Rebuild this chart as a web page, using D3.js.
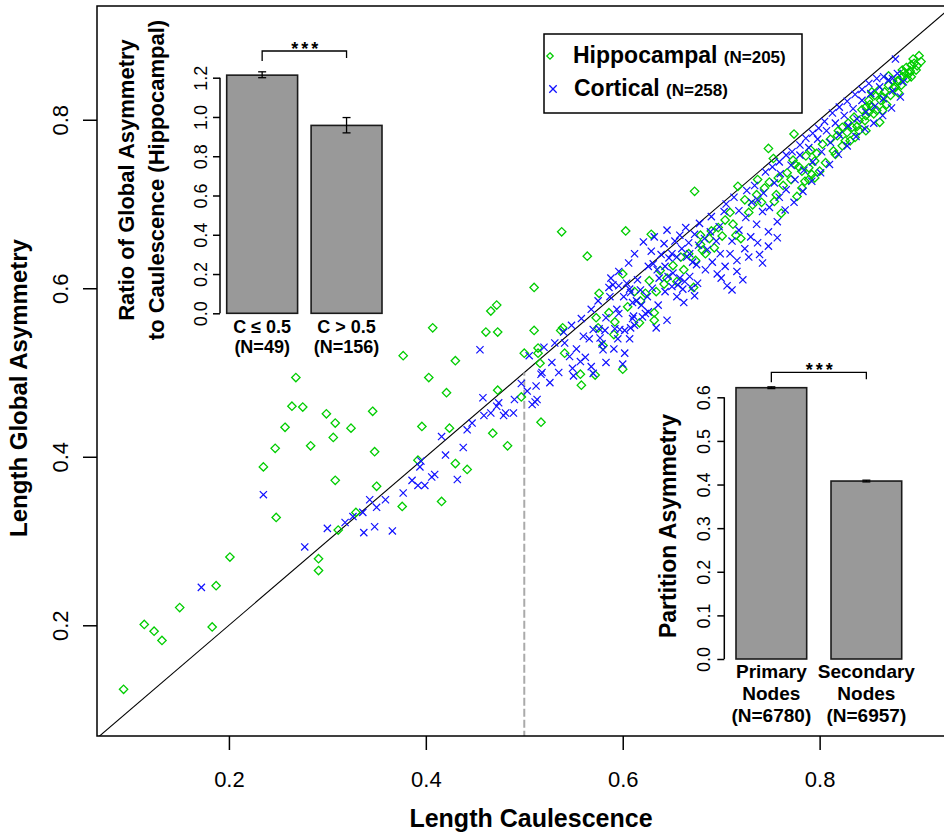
<!DOCTYPE html>
<html>
<head>
<meta charset="utf-8">
<title>Global asymmetry vs caulescence</title>
<script src="https://d3js.org/d3.v7.min.js"></script>
<style>
  body { margin: 0; background: #fff; }
  svg text { font-family: "Liberation Sans", Arial, sans-serif; fill: #000; }
  .bold { font-weight: bold; }
</style>
</head>
<body>
<svg id="chart" width="944" height="836"></svg>
<script>
// ---- data ----
var hippocampal = [
  [0.093,0.124],[0.114,0.201],[0.124,0.193],[0.132,0.182],[0.150,0.221],[0.187,0.247],[0.183,0.198],[0.201,0.281],
  [0.248,0.328],[0.291,0.279],[0.291,0.265],[0.311,0.313],[0.329,0.334],[0.376,0.341],[0.416,0.347],
  [0.564,0.638],[0.600,0.617],[0.510,0.601],[0.576,0.594],[0.623,0.594],[0.472,0.580],[0.466,0.573],[0.407,0.553],
  [0.461,0.548],[0.473,0.548],[0.510,0.550],[0.537,0.550],[0.539,0.553],[0.573,0.565],[0.591,0.545],[0.617,0.559],
  [0.632,0.571],[0.632,0.562],[0.642,0.605],[0.672,0.601],[0.659,0.637],
  [0.377,0.520],[0.430,0.514],[0.500,0.523],[0.514,0.529],[0.514,0.523],[0.516,0.511],[0.541,0.523],[0.580,0.532],
  [0.403,0.494],[0.421,0.476],[0.473,0.479],[0.497,0.471],[0.557,0.498],[0.572,0.497],[0.558,0.485],[0.600,0.504],
  [0.517,0.441],[0.396,0.436],[0.424,0.434],[0.468,0.428],[0.483,0.413],[0.392,0.396],[0.430,0.392],[0.442,0.385],
  [0.235,0.388],[0.247,0.410],[0.257,0.435],[0.264,0.460],[0.268,0.494],[0.275,0.459],[0.283,0.413],[0.299,0.451],
  [0.308,0.440],[0.306,0.423],[0.308,0.372],[0.324,0.434],[0.346,0.454],[0.348,0.406],[0.350,0.365],[0.538,0.667],
  [0.673,0.715],[0.603,0.668],[0.629,0.664],[0.748,0.766],[0.753,0.754],[0.774,0.783],[0.717,0.721],[0.737,0.729],
  [0.732,0.699],[0.679,0.663],[0.681,0.645],[0.715,0.663],[0.720,0.659],[0.756,0.711],[0.754,0.703],[0.761,0.689],
  [0.777,0.709],[0.785,0.727],[0.792,0.735],[0.789,0.743],[0.800,0.739],[0.795,0.751],[0.816,0.759],[0.823,0.769],
  [0.831,0.775],[0.836,0.779],[0.828,0.785],[0.833,0.791],[0.840,0.787],[0.847,0.787],[0.840,0.799],[0.847,0.805],
  [0.850,0.809],[0.861,0.797],[0.855,0.807],[0.864,0.811],[0.823,0.791],[0.819,0.787],[0.853,0.833],[0.860,0.835],
  [0.850,0.823],[0.864,0.827],[0.870,0.841],[0.877,0.839],[0.884,0.851],[0.891,0.855],[0.896,0.867],[0.903,0.869],
  [0.898,0.859],[0.889,0.849],[0.881,0.847],[0.874,0.847],[0.884,0.859],[0.893,0.865],[0.853,0.815],[0.847,0.815],
  [0.775,0.747],[0.782,0.739],[0.795,0.731],[0.782,0.719],[0.789,0.729],
  [0.690,0.668],[0.697,0.672],[0.704,0.681],[0.709,0.690],[0.712,0.676],[0.724,0.705],[0.728,0.690],[0.736,0.711],
  [0.741,0.702],[0.744,0.719],[0.749,0.726],[0.758,0.731],[0.763,0.722],[0.767,0.737],[0.771,0.729],[0.773,0.752],
  [0.779,0.744],[0.786,0.757],[0.791,0.764],[0.797,0.760],[0.803,0.771],[0.806,0.749],[0.811,0.777],[0.814,0.763],
  [0.818,0.781],[0.826,0.775],[0.829,0.796],[0.835,0.803],[0.838,0.792],[0.843,0.812],[0.846,0.799],[0.851,0.818],
  [0.856,0.829],[0.858,0.811],[0.862,0.823],[0.866,0.833],[0.868,0.818],[0.872,0.829],[0.875,0.838],[0.879,0.846],
  [0.883,0.841],[0.886,0.856],[0.888,0.862],[0.892,0.858],[0.895,0.872],[0.899,0.864],[0.901,0.876],[0.893,0.851],
  [0.880,0.832],[0.870,0.852],
  [0.612,0.596],[0.618,0.585],[0.627,0.609],[0.634,0.596],[0.638,0.621],[0.645,0.612],[0.651,0.627],[0.655,0.608],
  [0.662,0.622],[0.667,0.641],[0.674,0.633],[0.679,0.652],[0.684,0.641],[0.688,0.659],[0.693,0.648],[0.701,0.662],
  [0.575,0.553],[0.586,0.571],[0.592,0.560],[0.605,0.578]
];

var cortical = [
  [0.172,0.245],[0.277,0.293],[0.326,0.329],[0.336,0.334],[0.348,0.317],[0.366,0.312],[0.343,0.349],[0.359,0.349],
  [0.235,0.355],
  [0.455,0.527],[0.531,0.535],[0.541,0.535],[0.558,0.564],[0.546,0.519],[0.557,0.513],[0.549,0.505],[0.550,0.496],
  [0.568,0.507],[0.570,0.499],[0.517,0.498],[0.518,0.500],[0.526,0.488],[0.512,0.484],[0.511,0.465],[0.513,0.468],
  [0.560,0.543],[0.566,0.540],[0.570,0.551],[0.576,0.552],[0.582,0.550],[0.577,0.541],[0.580,0.527],[0.579,0.534],
  [0.592,0.552],[0.597,0.551],[0.602,0.550],[0.608,0.553],[0.612,0.556],[0.595,0.540],[0.602,0.523],
  [0.587,0.590],[0.590,0.604],[0.586,0.601],[0.596,0.603],[0.604,0.606],[0.607,0.599],[0.608,0.595],[0.610,0.583],
  [0.619,0.580],[0.626,0.572],[0.623,0.570],[0.620,0.566],[0.594,0.575],[0.596,0.570],[0.610,0.564],[0.611,0.567],
  [0.634,0.553],[0.636,0.580],[0.645,0.562],[0.626,0.626],[0.631,0.629],[0.635,0.622],[0.643,0.626],[0.646,0.614],
  [0.651,0.618],[0.658,0.612],[0.663,0.608],[0.668,0.614],[0.650,0.641],[0.655,0.637],[0.665,0.637],[0.671,0.631],
  [0.675,0.628],[0.656,0.604],[0.661,0.599],[0.673,0.591],
  [0.474,0.464],[0.472,0.460],[0.481,0.452],[0.479,0.449],[0.489,0.452],[0.459,0.449],[0.442,0.432],[0.416,0.424],
  [0.394,0.388],[0.386,0.372],[0.392,0.366],[0.399,0.366],[0.406,0.376],[0.409,0.379],[0.432,0.373],
  [0.621,0.655],[0.629,0.644],[0.632,0.661],[0.639,0.640],[0.642,0.653],[0.645,0.669],[0.647,0.636],[0.653,0.656],
  [0.658,0.663],[0.660,0.647],[0.664,0.672],[0.667,0.654],[0.668,0.641],[0.673,0.664],[0.677,0.651],[0.678,0.677],
  [0.683,0.659],[0.686,0.646],[0.689,0.667],[0.690,0.685],[0.695,0.656],[0.698,0.673],[0.699,0.641],[0.703,0.691],
  [0.684,0.622],[0.691,0.631],[0.696,0.617],[0.704,0.626],[0.709,0.641],[0.711,0.656],[0.716,0.633],[0.718,0.669],
  [0.724,0.647],[0.725,0.684],[0.730,0.661],[0.731,0.702],[0.736,0.676],[0.737,0.654],[0.742,0.691],[0.743,0.713],
  [0.748,0.667],[0.749,0.696],[0.754,0.725],[0.757,0.679],[0.759,0.708],[0.760,0.736],[0.765,0.693],[0.766,0.717],
  [0.771,0.746],[0.774,0.702],[0.775,0.729],[0.780,0.758],[0.783,0.715],[0.784,0.740],[0.789,0.767],[0.792,0.727],
  [0.793,0.750],[0.798,0.777],[0.801,0.737],[0.802,0.762],[0.807,0.787],[0.810,0.747],[0.811,0.773],[0.816,0.796],
  [0.819,0.759],[0.820,0.782],[0.825,0.805],[0.828,0.769],[0.829,0.793],[0.834,0.813],[0.837,0.780],[0.838,0.801],
  [0.843,0.823],[0.846,0.789],[0.847,0.809],[0.852,0.831],[0.855,0.796],[0.856,0.816],[0.861,0.839],[0.864,0.805],
  [0.865,0.825],[0.870,0.847],[0.873,0.814],[0.874,0.834],[0.879,0.855],[0.882,0.827],[0.877,0.872],[0.865,0.851],
  [0.885,0.845],[0.874,0.849],
  [0.700,0.612],[0.706,0.603],[0.716,0.620],[0.728,0.637],[0.739,0.640],[0.748,0.650],[0.757,0.660],[0.742,0.630],
  [0.722,0.610],[0.711,0.598],
  [0.705,0.700],[0.713,0.708],[0.718,0.692],[0.726,0.716],[0.734,0.722],[0.737,0.705],[0.745,0.738],[0.752,0.744],
  [0.759,0.750],[0.766,0.758],[0.772,0.762],[0.780,0.770],[0.786,0.778],[0.793,0.784],[0.799,0.790],[0.805,0.798],
  [0.813,0.808],[0.820,0.815],[0.828,0.822],[0.836,0.830],[0.843,0.836],[0.850,0.843],[0.858,0.849],
  [0.505,0.520],[0.520,0.530],[0.528,0.512],[0.535,0.500],[0.540,0.548],[0.548,0.556],[0.553,0.528],[0.562,0.518],
  [0.568,0.575],[0.575,0.585],[0.583,0.565],[0.588,0.612],[0.596,0.620],[0.601,0.590],[0.606,0.630],[0.612,0.641],
  [0.615,0.610],[0.618,0.598],[0.583,0.512],[0.591,0.528],[0.600,0.510],[0.607,0.540],[0.614,0.585],[0.625,0.590],
  [0.630,0.600],[0.637,0.612],[0.643,0.596],[0.650,0.602],[0.655,0.590],[0.662,0.583],[0.670,0.600],[0.676,0.606],
  [0.300,0.315],[0.318,0.322],[0.337,0.310],[0.350,0.340],[0.377,0.357],[0.395,0.395],[0.420,0.402],[0.438,0.411],
  [0.447,0.440],[0.458,0.470],[0.466,0.452],[0.490,0.468],[0.497,0.487],[0.503,0.478],[0.508,0.462]
];

var xTicks = [0.2, 0.4, 0.6, 0.8];
var yTicks = [0.2, 0.4, 0.6, 0.8];
var cutoff = 0.5;

// inset 1: ratio of global asymmetry to caulescence
var ratioCats = ["C \u2264 0.5", "C > 0.5"];
var ratioN = ["(N=49)", "(N=156)"];
var ratioMean = [1.213, 0.957];
var ratioLo = [1.200, 0.919];
var ratioHi = [1.230, 0.997];
var ratioTicks = [0, 0.2, 0.4, 0.6, 0.8, 1.0, 1.2];

// inset 2: partition asymmetry
var partCats = [["Primary", "Nodes", "(N=6780)"], ["Secondary", "Nodes", "(N=6957)"]];
var partMean = [0.622, 0.408];
var partLo = [0.620, 0.406];
var partHi = [0.624, 0.410];
var partTicks = [0, 0.1, 0.2, 0.3, 0.4, 0.5, 0.6];

var green = "#00cd00", blue = "#1010ff";

var svg = d3.select("#chart");

// ---- main scatter ----
var x = d3.scaleLinear().domain([0.066, 0.9375]).range([97, 955]);
var y = d3.scaleLinear().domain([0.0686, 0.935]).range([736, 6]);

svg.append("clipPath").attr("id", "plotclip")
  .append("rect").attr("x", 97).attr("y", 6).attr("width", 858).attr("height", 730);

var plot = svg.append("g").attr("clip-path", "url(#plotclip)");

// y = x reference line
plot.append("line")
  .attr("x1", x(0.0)).attr("y1", y(0.0))
  .attr("x2", x(1.0)).attr("y2", y(1.0))
  .attr("stroke", "#000").attr("stroke-width", 1.1);

// dashed cut-off at C = 0.5
plot.append("line")
  .attr("x1", x(cutoff)).attr("x2", x(cutoff))
  .attr("y1", y(0.0)).attr("y2", y(cutoff))
  .attr("stroke", "#aaaaaa").attr("stroke-width", 2)
  .attr("stroke-dasharray", "8,3");

var diamond = function(r) { return "M0," + (-r) + "L" + r + ",0L0," + r + "L" + (-r) + ",0Z"; };
var cross = function(r) { return "M" + (-r) + "," + (-r) + "L" + r + "," + r + "M" + (-r) + "," + r + "L" + r + "," + (-r); };

plot.selectAll("path.hip")
  .data(hippocampal)
  .enter()
  .append("path")
  .attr("class", "hip")
  .attr("d", diamond(4.2))
  .attr("transform", function(d) { return "translate(" + x(d[0]) + "," + y(d[1]) + ")"; })
  .attr("fill", "none").attr("stroke", green).attr("stroke-width", 1.3);

plot.selectAll("path.cor")
  .data(cortical)
  .enter()
  .append("path")
  .attr("class", "cor")
  .attr("d", cross(3.6))
  .attr("transform", function(d) { return "translate(" + x(d[0]) + "," + y(d[1]) + ")"; })
  .attr("fill", "none").attr("stroke", blue).attr("stroke-width", 1.2);

// plot frame
svg.append("rect")
  .attr("x", 97).attr("y", 6).attr("width", 858).attr("height", 730)
  .attr("fill", "none").attr("stroke", "#000").attr("stroke-width", 1.5);

// x axis
var xAxis = svg.append("g")
  .attr("transform", "translate(0,736)")
  .call(d3.axisBottom(x).tickValues(xTicks).tickSize(14).tickPadding(21).tickFormat(d3.format(".1f")));
xAxis.select(".domain").remove();
xAxis.selectAll("line").attr("stroke-width", 1.5);
xAxis.selectAll("text").attr("font-size", 22).style("font-family", "Liberation Sans, Arial, sans-serif");

// y axis
var yAxis = svg.append("g")
  .attr("transform", "translate(97,0)")
  .call(d3.axisLeft(y).tickValues(yTicks).tickSize(14).tickFormat(d3.format(".1f")));
yAxis.select(".domain").remove();
yAxis.selectAll("line").attr("stroke-width", 1.5);
yAxis.selectAll("text")
  .attr("transform", "rotate(-90)")
  .attr("x", 0).attr("y", -29).attr("dy", 0)
  .attr("text-anchor", "middle")
  .attr("font-size", 22).style("font-family", "Liberation Sans, Arial, sans-serif");

svg.append("text").attr("class", "bold")
  .attr("x", 531).attr("y", 827)
  .attr("text-anchor", "middle").attr("font-size", 25)
  .text("Length Caulescence");

svg.append("text").attr("class", "bold")
  .attr("transform", "translate(27,388) rotate(-90)")
  .attr("text-anchor", "middle").attr("font-size", 24)
  .text("Length Global Asymmetry");

// legend
var legend = svg.append("g");
legend.append("rect")
  .attr("x", 544).attr("y", 34).attr("width", 258).attr("height", 79)
  .attr("fill", "#fff").attr("stroke", "#000").attr("stroke-width", 1.5);
legend.append("path").attr("d", diamond(3.2))
  .attr("transform", "translate(550,56)")
  .attr("fill", "none").attr("stroke", green).attr("stroke-width", 1.3);
legend.append("path").attr("d", cross(3.7))
  .attr("transform", "translate(553,89)")
  .attr("fill", "none").attr("stroke", blue).attr("stroke-width", 1.3);
var l1 = legend.append("text").attr("class", "bold").attr("x", 573).attr("y", 63).attr("font-size", 23);
l1.append("tspan").text("Hippocampal ");
l1.append("tspan").attr("font-size", 17).text("(N=205)");
var l2 = legend.append("text").attr("class", "bold").attr("x", 574).attr("y", 96).attr("font-size", 23);
l2.append("tspan").text("Cortical ");
l2.append("tspan").attr("font-size", 17).text("(N=258)");

// ---- inset bar chart helper ----
function inset(opt) {
  var g = svg.append("g");
  var by = d3.scaleLinear().domain(opt.domain).range(opt.yRange);
  var bx = d3.scaleBand().domain(d3.range(opt.mean.length)).range(opt.xRange).paddingInner(opt.pad);

  g.selectAll("rect.bar")
    .data(opt.mean)
    .enter()
    .append("rect")
    .attr("class", "bar")
    .attr("x", function(d, i) { return bx(i); })
    .attr("width", bx.bandwidth())
    .attr("y", function(d) { return by(d); })
    .attr("height", function(d) { return by(0) - by(d); })
    .attr("fill", "#999999").attr("stroke", "#1a1a1a").attr("stroke-width", 1.6);

  // error bars
  var err = g.selectAll("g.err").data(opt.mean).enter().append("g").attr("class", "err");
  err.append("line")
    .attr("x1", function(d, i) { return bx(i) + bx.bandwidth() / 2; })
    .attr("x2", function(d, i) { return bx(i) + bx.bandwidth() / 2; })
    .attr("y1", function(d, i) { return by(opt.lo[i]); })
    .attr("y2", function(d, i) { return by(opt.hi[i]); });
  [opt.lo, opt.hi].forEach(function(arr) {
    err.append("line")
      .attr("x1", function(d, i) { return bx(i) + bx.bandwidth() / 2 - 4; })
      .attr("x2", function(d, i) { return bx(i) + bx.bandwidth() / 2 + 4; })
      .attr("y1", function(d, i) { return by(arr[i]); })
      .attr("y2", function(d, i) { return by(arr[i]); });
  });
  err.selectAll("line").attr("stroke", "#000").attr("stroke-width", 1.3);

  // axis
  var ax = g.append("g")
    .attr("transform", "translate(" + opt.axisX + ",0)")
    .call(d3.axisLeft(by).tickValues(opt.ticks).tickSize(7).tickFormat(d3.format(".1f")));
  ax.select(".domain")
    .attr("d", "M0," + by(opt.ticks[0]) + "V" + by(opt.ticks[opt.ticks.length - 1]))
    .attr("stroke-width", 1.5);
  ax.selectAll("line").attr("stroke-width", 1.5);
  ax.selectAll("text")
    .attr("transform", "rotate(-90)")
    .attr("x", 0).attr("y", opt.labelOff).attr("dy", 0)
    .attr("text-anchor", "middle")
    .attr("font-size", 18).attr("fill", "#222")
    .style("font-family", "Liberation Sans, Arial, sans-serif");

  // significance bracket
  var c0 = bx(0) + bx.bandwidth() / 2, c1 = bx(1) + bx.bandwidth() / 2;
  g.append("path")
    .attr("d", "M" + c0 + "," + (opt.bracketY + 10) + "V" + opt.bracketY + "H" + c1 + "V" + (opt.bracketY + 7))
    .attr("fill", "none").attr("stroke", "#000").attr("stroke-width", 1.3);
  g.append("text").attr("class", "bold")
    .attr("x", (c0 + c1) / 2 + 2).attr("y", opt.bracketY + 3.5)
    .attr("text-anchor", "middle").attr("font-size", 18).attr("letter-spacing", 3)
    .text("***");

  // category labels
  opt.labels.forEach(function(lines, i) {
    var t = g.append("text").attr("class", "bold")
      .attr("text-anchor", "middle").attr("font-size", opt.labelSize);
    lines.forEach(function(s, k) {
      t.append("tspan").attr("x", bx(i) + bx.bandwidth() / 2)
        .attr("y", opt.labelY + k * opt.labelStep).text(s);
    });
  });

  // y title
  var tt = g.append("text").attr("class", "bold")
    .attr("transform", "translate(" + opt.titleX + "," + opt.titleY + ") rotate(-90)")
    .attr("text-anchor", "middle").attr("font-size", opt.titleSize);
  opt.title.forEach(function(s, k) {
    tt.append("tspan").attr("x", 0).attr("y", k * opt.titleStep).text(s);
  });
}

inset({
  domain: [0, 1.2], yRange: [313.3, 77.7], xRange: [226.7, 382], pad: 0.16,
  mean: ratioMean, lo: ratioLo, hi: ratioHi, ticks: ratioTicks,
  axisX: 220, labelOff: -13,
  bracketY: 51,
  labels: [[ratioCats[0], ratioN[0]], [ratioCats[1], ratioN[1]]],
  labelY: 333, labelStep: 20, labelSize: 18,
  title: ["Ratio of Global Asymmetry", "to Caulescence (Hippocampal)"],
  titleX: 134, titleY: 180, titleStep: 30, titleSize: 22
});

inset({
  domain: [0, 0.6], yRange: [659, 397.3], xRange: [736, 901.7], pad: 0.256,
  mean: partMean, lo: partLo, hi: partHi, ticks: partTicks,
  axisX: 724.3, labelOff: -14,
  bracketY: 372.3,
  labels: partCats,
  labelY: 678, labelStep: 22, labelSize: 19,
  title: ["Partition Asymmetry"],
  titleX: 676, titleY: 526, titleStep: 0, titleSize: 23
});
</script>
</body>
</html>
